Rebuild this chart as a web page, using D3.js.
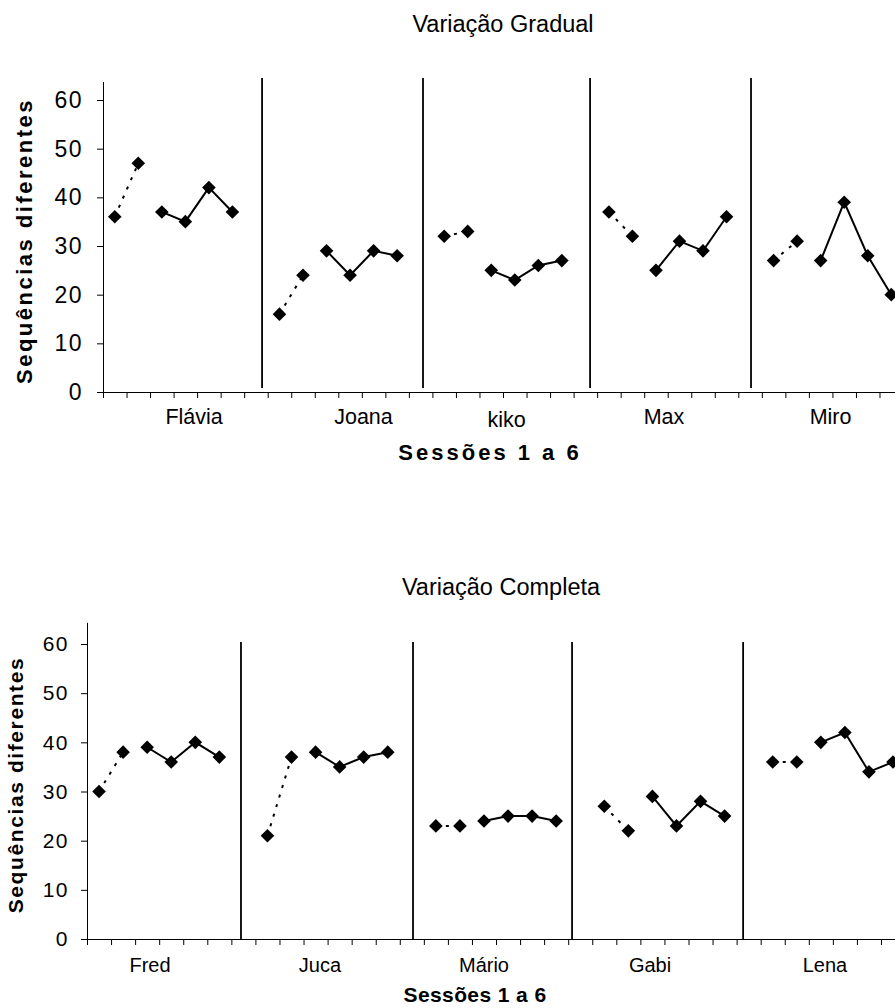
<!DOCTYPE html>
<html>
<head>
<meta charset="utf-8">
<script src="https://cdn.jsdelivr.net/npm/d3@7"></script>
<style>
  html, body { margin: 0; padding: 0; background: #fff; }
  svg { display: block; }
  text { font-family: "Liberation Sans", Arial, sans-serif; fill: #000; }
</style>
</head>
<body>
<svg id="chart" width="895" height="1008"></svg>
<script>
// Participants and their six session scores (different sequences per session)
const gradualNames = ["Flávia", "Joana", "kiko", "Max", "Miro"];
const gradualValues = [
  [36, 47, 37, 35, 42, 37],
  [16, 24, 29, 24, 29, 28],
  [32, 33, 25, 23, 26, 27],
  [37, 32, 25, 31, 29, 36],
  [27, 31, 27, 39, 28, 20]
];
const completeNames = ["Fred", "Juca", "Mário", "Gabi", "Lena"];
const completeValues = [
  [30, 38, 39, 36, 40, 37],
  [21, 37, 38, 35, 37, 38],
  [23, 23, 24, 25, 25, 24],
  [27, 22, 29, 23, 28, 25],
  [36, 36, 40, 42, 34, 36]
];
const yTicks = [0, 10, 20, 30, 40, 50, 60];
const panelTitles = ["Variação Gradual", "Variação Completa"];
const xTitle = "Sessões 1 a 6";
const yTitle = "Sequências diferentes";

// Slot layout: 6 sessions per participant plus one empty slot between participants
const SESSIONS = 6, GROUP = 7, SLOTS = 34;

const svg = d3.select("#chart");

function diamond(r) {
  return `M0,${-r}L${r},0L0,${r}L${-r},0Z`;
}

function drawPanel(cfg) {
  const g = svg.append("g");
  const x = d3.scaleLinear().domain([0, SLOTS]).range([cfg.left, cfg.left + cfg.slot * SLOTS]);
  const y = d3.scaleLinear().domain([0, 60]).range([cfg.y0, cfg.y60]);

  // title
  g.append("text")
    .attr("x", cfg.titleX).attr("y", cfg.titleY)
    .attr("text-anchor", "middle")
    .style("font-size", "23.5px")
    .text(cfg.title);

  // y axis
  const yAxis = d3.axisLeft(y).tickValues(yTicks).tickSize(6).tickPadding(cfg.tickPad);
  const ya = g.append("g").attr("transform", `translate(${cfg.left},0)`).call(yAxis);
  ya.select(".domain").remove();
  ya.append("line")
    .attr("x1", 0.5).attr("x2", 0.5)
    .attr("y1", y(cfg.yTop)).attr("y2", y(0))
    .attr("stroke", "#000").attr("stroke-width", 1);
  ya.selectAll(".tick line").attr("stroke", "#000");
  ya.selectAll(".tick text")
    .style("font-size", cfg.tickFont + "px")
    .style("font-family", '"Liberation Sans", Arial, sans-serif')
    .style("letter-spacing", "1.5px")
    .attr("fill", "#000");

  // x axis: a tick at every slot boundary
  const xAxis = d3.axisBottom(x).tickValues(d3.range(0, SLOTS + 1)).tickSize(6).tickFormat("");
  const xa = g.append("g").attr("transform", `translate(0,${cfg.y0})`).call(xAxis);
  xa.select(".domain").attr("stroke", "#000");
  xa.selectAll(".tick line").attr("stroke", "#000");

  // participant separators
  g.selectAll("line.sep").data(cfg.separators).join("line")
    .attr("class", "sep")
    .attr("x1", d => x(d)).attr("x2", d => x(d))
    .attr("y1", y(cfg.sepTop)).attr("y2", y(cfg.sepBottom))
    .attr("stroke", "#000").attr("stroke-width", 1.8);

  // series: sessions 1-2 dotted, sessions 3-6 solid
  cfg.values.forEach((vals, gi) => {
    const pts = vals.map((v, i) => [x(gi * GROUP + i + 0.5), y(v)]);
    const line = d3.line();
    g.append("path")
      .attr("d", line(pts.slice(0, 2)))
      .attr("fill", "none").attr("stroke", "#000")
      .attr("stroke-width", 2).attr("stroke-dasharray", "3,7");
    g.append("path")
      .attr("d", line(pts.slice(2)))
      .attr("fill", "none").attr("stroke", "#000")
      .attr("stroke-width", 2);
    g.selectAll(null).data(pts).join("path")
      .attr("transform", d => `translate(${d[0]},${d[1]})`)
      .attr("d", diamond(6.8))
      .attr("fill", "#000");
  });

  // participant names
  g.selectAll("text.name").data(cfg.names).join("text")
    .attr("class", "name")
    .attr("x", (d, i) => x(cfg.nameAt[i]))
    .attr("y", (d, i) => cfg.nameY + (cfg.nameDy[i] || 0))
    .attr("text-anchor", "middle")
    .style("font-size", cfg.nameFont + "px")
    .text(d => d);

  // x title
  g.append("text")
    .attr("x", cfg.xTitleX).attr("y", cfg.xTitleY)
    .attr("text-anchor", "middle")
    .style("font-size", cfg.xTitleFont + "px").style("font-weight", "bold")
    .style("letter-spacing", cfg.xTitleSpacing + "px")
    .text(xTitle);

  // y title
  g.append("text")
    .attr("transform", `translate(${cfg.yTitleX},${cfg.yTitleY}) rotate(-90)`)
    .attr("text-anchor", "middle")
    .style("font-size", cfg.yTitleFont + "px").style("font-weight", "bold")
    .style("letter-spacing", cfg.yTitleSpacing + "px")
    .text(yTitle);
}

drawPanel({
  title: panelTitles[0], titleX: 503, titleY: 32,
  names: gradualNames, values: gradualValues,
  left: 103, slot: 23.53, y0: 392, y60: 100, yTop: 63.7,
  separators: [6.76, 13.6, 20.7, 27.54], sepTop: 64.5, sepBottom: 0.8,
  nameAt: [3.87, 11.07, 17.15, 23.84, 30.92], nameY: 424, nameDy: [0, 0, 3, 0, 0],
  nameFont: 21.5, tickFont: 23, tickPad: 14,
  xTitleX: 490, xTitleY: 460, xTitleSpacing: 3, xTitleFont: 22,
  yTitleX: 32, yTitleY: 241, yTitleSpacing: 2.5, yTitleFont: 22
});

drawPanel({
  title: panelTitles[1], titleX: 501, titleY: 595,
  names: completeNames, values: completeValues,
  left: 87, slot: 24.06, y0: 939, y60: 644, yTop: 64.3,
  separators: [6.4, 13.55, 20.16, 27.27], sepTop: 60.4, sepBottom: 0,
  nameAt: [2.62, 9.68, 16.5, 23.4, 30.67], nameY: 972, nameDy: [0, 0, 0, 0, 0],
  nameFont: 20, tickFont: 21, tickPad: 12,
  xTitleX: 475, xTitleY: 1002, xTitleSpacing: 0.4, xTitleFont: 21,
  yTitleX: 23, yTitleY: 785, yTitleSpacing: 1.6, yTitleFont: 21
});
</script>
</body>
</html>
